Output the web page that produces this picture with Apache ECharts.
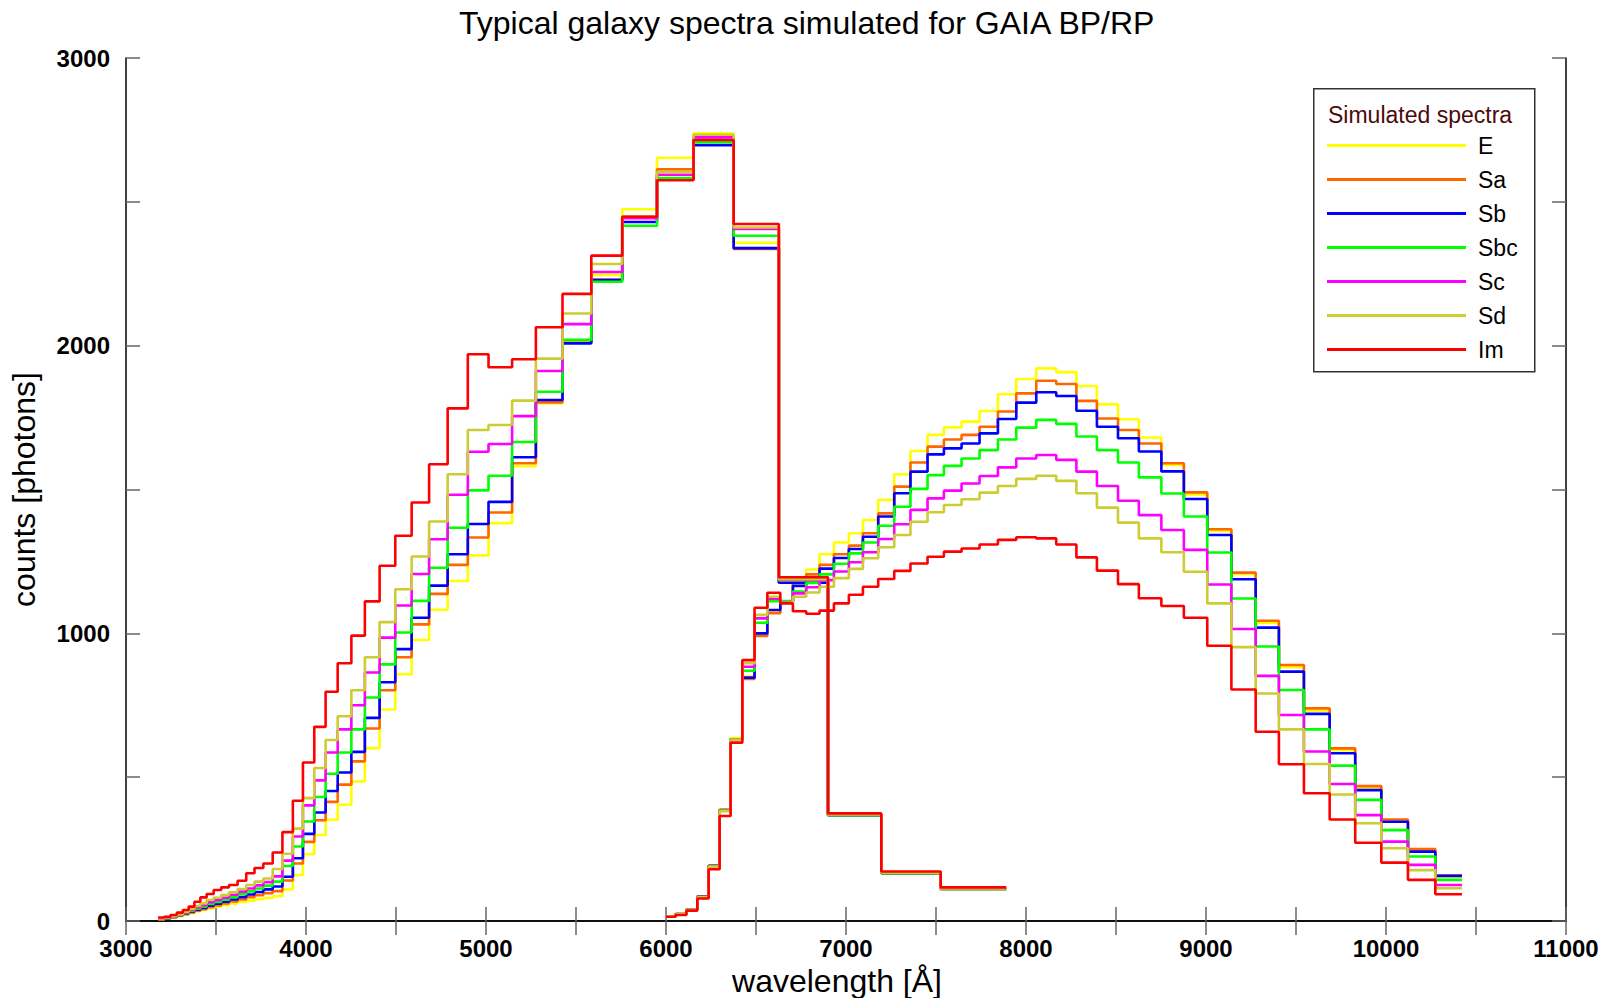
<!DOCTYPE html>
<html>
<head>
<meta charset="utf-8">
<script src="https://cdn.jsdelivr.net/npm/echarts@6/dist/echarts.min.js"></script>
<style>
html,body{margin:0;padding:0;background:#fff;}
#chart{width:1616px;height:998px;}
</style>
</head>
<body>
<div id="chart"></div>
<script>
// ---- data ----
const typeNames = ['E', 'Sa', 'Sb', 'Sbc', 'Sc', 'Sd', 'Im'];
const typeColors = ['#ffff00', '#ff6600', '#0000ff', '#00ff00', '#ff00ff', '#cccc33', '#ff0000'];

// BP bin edges (Å)
const bpEdges = [3178,3212,3247,3282,3316,3348,3380,3413,3448,3487,3529,3572,3620,3668,3714,3763,3815,3869,3927,3983,4046,4109,4176,4252,4327,4409,4496,4587,4684,4787,4899,5014,5145,5277,5425,5585,5757,5950,6153,6376,6627,6900,7196,7526,7890];
// RP bin edges (Å)
const rpEdges = [6000,6053,6113,6174,6237,6298,6359,6424,6492,6563,6635,6705,6779,6853,6933,7016,7094,7179,7268,7358,7453,7544,7642,7742,7844,7946,8057,8168,8280,8394,8511,8627,8752,8877,9007,9141,9276,9405,9544,9687,9829,9974,10122,10274,10422];

// BP counts per bin
const bpE   = [5,8,12,17,22,27,33,38,44,50,55,61,66,71,76,80,86,110,160,232,299,352,404,485,601,735,858,977,1082,1182,1271,1383,1581,1800,2015,2246,2474,2653,2738,2358,1180,368,166,111];
const bpSa  = [6,9,13,19,24,30,36,41,48,54,61,68,75,83,90,97,104,141,200,275,350,414,474,555,669,802,917,1031,1137,1238,1333,1420,1591,1803,2010,2230,2445,2613,2729,2336,1178,368,166,111];
const bpSb  = [7,10,14,20,26,32,39,45,53,60,67,75,83,92,101,110,120,154,218,303,377,452,516,588,706,830,945,1054,1166,1275,1380,1457,1612,1811,2008,2228,2430,2580,2697,2339,1176,368,166,111];
const bpSbc = [8,11,15,21,28,35,43,50,59,66,74,83,93,103,113,123,137,191,259,346,431,512,586,666,777,892,1003,1113,1228,1367,1497,1548,1665,1840,2020,2222,2417,2583,2707,2382,1184,368,166,111];
const bpSc  = [8,12,16,22,30,38,47,55,65,73,81,91,102,113,124,135,155,210,294,402,489,586,666,750,864,985,1097,1206,1327,1482,1631,1658,1755,1912,2075,2256,2443,2594,2724,2406,1186,370,168,113];
const bpSd  = [9,13,17,23,32,42,52,61,73,81,90,100,111,125,137,148,181,234,321,427,532,629,712,802,917,1039,1153,1267,1389,1553,1707,1724,1809,1955,2112,2284,2450,2604,2733,2411,1188,370,168,113];
const bpIm  = [12,15,21,29,38,50,67,82,94,108,117,125,140,166,184,200,238,309,418,551,675,797,896,992,1111,1235,1339,1455,1588,1782,1970,1925,1953,2064,2180,2313,2448,2575,2715,2423,1195,374,172,117];

// RP counts per bin
const rpE   = [16,24,41,86,193,388,636,850,995,1075,1110,1185,1222,1275,1316,1348,1394,1464,1553,1634,1690,1716,1736,1773,1831,1884,1921,1908,1860,1796,1744,1681,1585,1483,1356,1206,1037,882,731,594,461,345,247,154];
const rpSa  = [16,24,41,86,192,386,632,841,991,1070,1110,1175,1205,1238,1275,1305,1348,1417,1510,1594,1649,1674,1690,1718,1771,1834,1878,1867,1808,1747,1707,1660,1591,1490,1362,1211,1044,890,739,600,469,353,250,158];
const rpSb  = [16,24,40,85,192,386,632,846,1000,1081,1110,1165,1195,1225,1262,1293,1336,1406,1487,1562,1622,1643,1660,1695,1745,1802,1838,1825,1774,1718,1678,1632,1563,1467,1342,1188,1020,867,720,583,455,345,241,157];
const rpSbc = [16,23,40,84,191,385,632,870,1037,1112,1112,1145,1175,1205,1242,1278,1316,1374,1440,1502,1550,1582,1608,1637,1674,1715,1742,1728,1684,1637,1594,1542,1486,1406,1281,1121,954,803,666,540,421,316,224,143];
const rpSc  = [16,23,39,83,190,383,630,884,1052,1120,1108,1139,1160,1185,1215,1247,1282,1328,1379,1429,1469,1496,1521,1547,1577,1608,1620,1603,1562,1512,1461,1411,1359,1290,1170,1015,852,716,589,476,368,276,195,125];
const rpSd  = [16,23,39,82,189,382,630,896,1064,1127,1106,1127,1142,1162,1192,1224,1261,1299,1342,1388,1421,1446,1466,1489,1512,1537,1548,1530,1487,1437,1385,1330,1282,1214,1104,952,791,666,546,440,340,253,177,114];
const rpIm  = [15,21,36,78,180,365,620,907,1089,1141,1104,1077,1068,1079,1104,1134,1162,1189,1217,1243,1266,1284,1295,1309,1325,1334,1330,1309,1264,1218,1171,1122,1095,1054,957,805,658,545,444,353,272,203,143,93];

const bpValues = [bpE, bpSa, bpSb, bpSbc, bpSc, bpSd, bpIm];
const rpValues = [rpE, rpSa, rpSb, rpSbc, rpSc, rpSd, rpIm];

const xTicks = {min: 3000, max: 11000, step: 500, labelStep: 1000};
const yTicks = {min: 0, max: 3000, step: 500, labelStep: 1000};

// ---- build ----
const FONT = '"Liberation Sans", Arial, sans-serif';

function stepData(edges, vals) {
  const d = vals.map((v, i) => [edges[i], v]);
  d.push([edges[edges.length - 1], vals[vals.length - 1]]);
  return d;
}

const series = [];
typeNames.forEach((name, k) => {
  [bpValues[k], rpValues[k]].forEach((vals, j) => {
    series.push({
      name: name,
      type: 'line',
      step: 'end',
      symbol: 'none',
      showSymbol: false,
      data: stepData(j === 0 ? bpEdges : rpEdges, vals),
      lineStyle: {color: typeColors[k], width: 2.6},
      itemStyle: {color: typeColors[k]},
      z: 2 + k,
      animation: false
    });
  });
});

const axisLine = {show: true, lineStyle: {color: '#000', width: 1.5}};
const axisTick = {show: true, inside: true, length: 14, lineStyle: {color: '#666', width: 1.5}};
const labelStyle = (step, margin) => ({
  show: true, fontFamily: FONT, fontWeight: 'bold', fontSize: 24, color: '#000', margin: margin,
  formatter: v => (v % step === 0 ? String(v) : '')
});

const option = {
  backgroundColor: '#fff',
  animation: false,
  title: {
    text: 'Typical galaxy spectra simulated for GAIA BP/RP',
    left: 454, top: 2,
    textStyle: {fontFamily: FONT, fontWeight: 'normal', fontSize: 32, color: '#000'}
  },
  grid: {left: 126, right: 50, top: 58, bottom: 77, containLabel: false, outerBoundsMode: 'none'},
  legend: {
    data: typeNames,
    orient: 'vertical',
    left: 1327, top: 134,
    padding: 0,
    icon: 'rect',
    itemWidth: 139, itemHeight: 3, itemGap: 11,
    textStyle: {fontFamily: FONT, fontSize: 23, color: '#000', padding: [0, 0, 0, 7], lineHeight: 23}
  },
  graphic: [
    {type: 'rect', left: 1313, top: 88, shape: {width: 221, height: 283},
     style: {fill: '#fff', stroke: '#333', lineWidth: 1.5}, z: 1},
    {type: 'text', left: 1328, top: 103, z: 10,
     style: {text: 'Simulated spectra', fontFamily: FONT, fontSize: 23, fill: '#4d0a0a'}}
  ],
  xAxis: [
    {type: 'value', position: 'bottom', min: xTicks.min, max: xTicks.max, interval: xTicks.step,
     axisLine: axisLine, axisTick: axisTick, axisLabel: labelStyle(xTicks.labelStep, 15), splitLine: {show: false},
     name: 'wavelength [Å]', nameLocation: 'middle', nameGap: 41,
     nameTextStyle: {fontFamily: FONT, fontSize: 32, color: '#000', padding: [0, 18, 0, 0]}},
    {type: 'value', position: 'top', min: xTicks.min, max: xTicks.max, interval: xTicks.step,
     axisLine: axisLine, axisTick: axisTick, axisLabel: {show: false}, splitLine: {show: false}}
  ],
  yAxis: [
    {type: 'value', position: 'left', min: yTicks.min, max: yTicks.max, interval: yTicks.step,
     axisLine: axisLine, axisTick: axisTick, axisLabel: labelStyle(yTicks.labelStep, 16), splitLine: {show: false},
     name: 'counts [photons]', nameLocation: 'middle', nameGap: 86, nameRotate: 90,
     nameTextStyle: {fontFamily: FONT, fontSize: 32, color: '#000'}},
    {type: 'value', position: 'right', min: yTicks.min, max: yTicks.max, interval: yTicks.step,
     axisLine: axisLine, axisTick: axisTick, axisLabel: {show: false}, splitLine: {show: false}}
  ],
  series: series
};

const chart = echarts.init(document.getElementById('chart'), null, {renderer: 'svg'});
chart.setOption(option);
</script>
</body>
</html>
